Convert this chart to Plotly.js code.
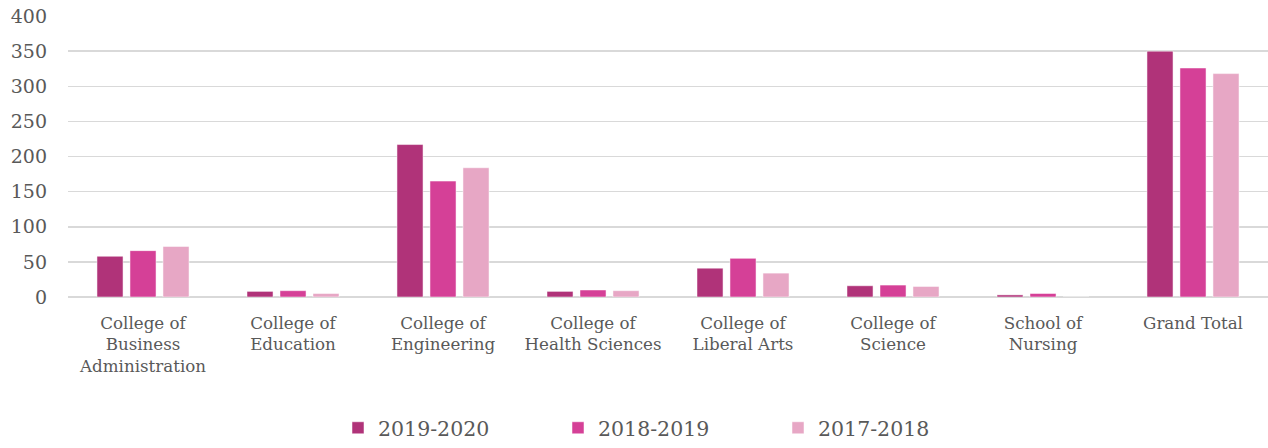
<!DOCTYPE html>
<html><head><meta charset="utf-8">
<script src="https://cdn.plot.ly/plotly-3.0.1.min.js"></script>
<style>html,body{margin:0;padding:0;background:#fff}#chart{width:1268px;height:448px}</style>
</head><body><div id="chart"></div>
<script>
const categories = ["College of<br>Business<br>Administration","College of<br>Education","College of<br>Engineering","College of<br>Health Sciences","College of<br>Liberal Arts","College of<br>Science","School of<br>Nursing","Grand Total"];
const seriesNames = ["2019-2020","2018-2019","2017-2018"];
const values2019 = [58, 8, 217, 8, 41, 16, 3, 350];
const values2018 = [66, 9, 165, 10, 55, 17, 5, 326];
const values2017 = [72, 5, 184, 9, 34, 15, 0, 318];
const colors = ["#B03379","#D54097","#E7A7C5"];
const allValues = [values2019, values2018, values2017];
const font = "Rockwell, 'DejaVu Serif', serif";
const traces = allValues.map((v,i)=>({
  type:'bar', name: seriesNames[i], x: categories, y: v,
  marker:{color: colors[i], line:{color:'#ffffff', width:0.5}},
  hoverinfo:'y'
}));
const layout = {
  width:1268, height:448,
  margin:{l:68, r:0, t:16, b:148, pad:0},
  paper_bgcolor:'#fff', plot_bgcolor:'#fff',
  barmode:'group', bargap:0.34, bargroupgap:0.21,
  font:{family:font, color:'#595959'},
  xaxis:{tickfont:{size:16.7, color:'#595959'}, showgrid:false, ticks:'', showline:false, automargin:false, ticklabelstandoff:14},
  yaxis:{range:[0,400], dtick:50, tickfont:{size:19, color:'#595959'}, gridcolor:'#D9D9D9', gridwidth:1.5,
         zeroline:true, zerolinecolor:'#D9D9D9', zerolinewidth:1.5, ticks:'', ticklen:0, ticklabelstandoff:20, automargin:false},
  showlegend:true,
  legend:{orientation:'h', x:0.5, xanchor:'center', y:-0.466, yanchor:'middle', font:{size:20.5, color:'#595959'},
          entrywidth:175, itemwidth:30, traceorder:'normal'}
};
Plotly.newPlot('chart', traces, layout, {displayModeBar:false, staticPlot:true});
</script></body></html>
